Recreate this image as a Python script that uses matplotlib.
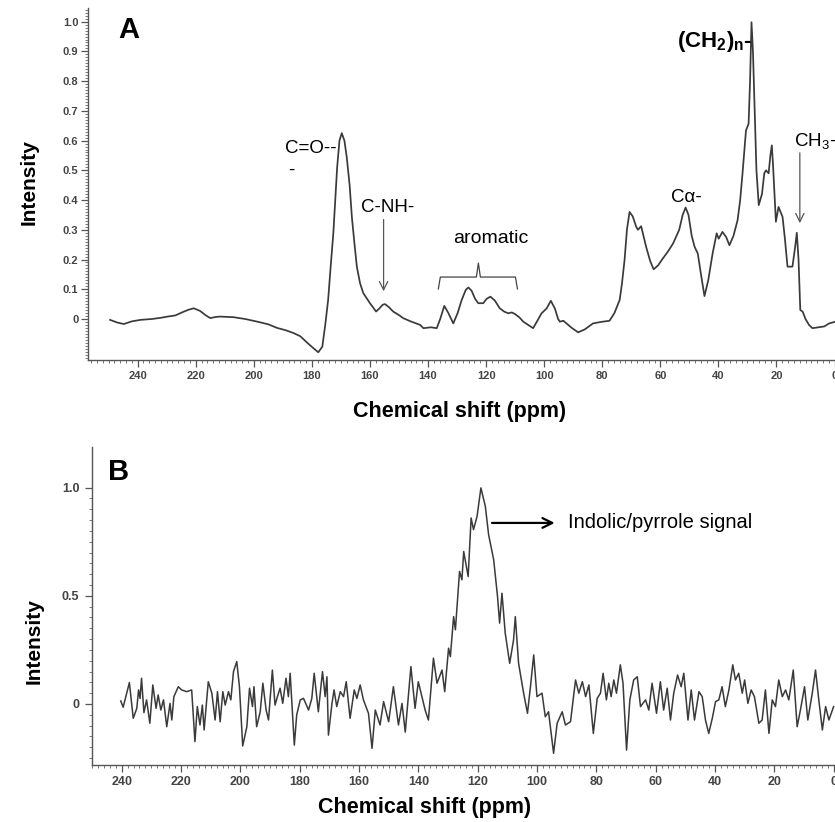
import matplotlib
matplotlib.use("Agg")
import matplotlib.pyplot as plt
import numpy as np

plt.rcParams['font.family'] = ['Liberation Sans', 'DejaVu Sans']
plt.rcParams['mathtext.fontset'] = 'custom'
plt.rcParams['mathtext.rm'] = 'Liberation Sans'
plt.rcParams['mathtext.bf'] = 'Liberation Sans:bold'
plt.rcParams['mathtext.it'] = 'Liberation Sans'

# panel A: 13C spectrum (ppm, intensity)
ppm_a = [249.5, 247, 244.8, 242, 239, 235, 232, 229.7, 227, 224.5, 222.5, 220.7,
         218.5, 216.5, 215, 213, 211.5, 207, 203, 198.8, 195, 192, 189, 186.4,
         184, 181.6, 179.5, 177.8, 176.4, 175.4, 174.4, 173.5, 172.6, 171.3,
         170.5, 169.7, 168.8, 168, 167, 166.2, 165.3, 164.5, 163.4, 162.3, 161,
         160, 159, 157.9, 156.8, 155.6, 154.8, 153.5, 152, 150, 148.6, 146,
         142.7, 141.6, 139, 137, 135.8, 134.4, 133, 131.3, 129.8, 128.4, 127,
         126.1, 125, 123.8, 122.7, 121, 119.8, 118.5, 117, 115.3, 113.8, 112.4,
         111.2, 110.1, 108.5, 107.2, 105.5, 103.8, 102.3, 100.9, 99.2, 97.7,
         96.3, 95.2, 94.6, 93.4, 92.3, 90.5, 88.3, 86, 83.2, 80.5, 77.5, 75.8,
         74, 73.2, 72.3, 71.5, 70.6, 69.5, 68.3, 67.7, 66.6, 65.8, 64.9, 63.5,
         62.3, 60.8, 59.1, 57.5, 55.6, 53.5, 52.3, 51.3, 50.3, 49.2, 48.2, 47.1,
         46, 44.8, 43.5, 42, 40.6, 39.9, 38.6, 37.3, 36.2, 34.8, 33.4, 32.5,
         31.7, 30.5, 29.6, 29.1, 28.6, 28.1, 27.6, 26.9, 26.1, 25, 24.2, 23.6,
         22.7, 22.1, 21.6, 21.2, 20.8, 20.2, 19.3, 18.6, 17.9, 17.1, 16.2, 14.5,
         13.6, 13.0, 12.4, 11.8, 11.0, 10, 8.8, 7.6, 5.5, 3.5, 1.9, 0]
int_a = [-0.003, -0.012, -0.017, -0.008, -0.003, 0.0, 0.004, 0.008, 0.012, 0.023,
         0.031, 0.036, 0.027, 0.012, 0.003, 0.007, 0.008, 0.006, 0.0, -0.009,
         -0.018, -0.03, -0.038, -0.047, -0.058, -0.08, -0.098, -0.112, -0.093,
         -0.02, 0.064, 0.18, 0.29, 0.51, 0.6, 0.625, 0.6, 0.545, 0.45, 0.34,
         0.25, 0.175, 0.12, 0.087, 0.068, 0.053, 0.04, 0.025, 0.035, 0.048,
         0.05, 0.04, 0.025, 0.013, 0.003, -0.008, -0.02, -0.031, -0.028, -0.031,
         0.0, 0.044, 0.02, -0.015, 0.02, 0.064, 0.098, 0.106, 0.095, 0.068,
         0.053, 0.053, 0.068, 0.075, 0.062, 0.036, 0.025, 0.019, 0.022, 0.017,
         0.005, -0.009, -0.02, -0.031, -0.005, 0.019, 0.035, 0.061, 0.035, 0.0,
         -0.009, -0.006, -0.015, -0.03, -0.045, -0.035, -0.015, -0.01, -0.006,
         0.02, 0.064, 0.12, 0.2, 0.3, 0.36, 0.345, 0.31, 0.30, 0.312, 0.28,
         0.243, 0.195, 0.167, 0.18, 0.204, 0.225, 0.254, 0.3, 0.35, 0.375, 0.35,
         0.28, 0.243, 0.22, 0.15, 0.077, 0.13, 0.22, 0.288, 0.27, 0.293, 0.275,
         0.248, 0.28, 0.332, 0.4, 0.489, 0.634, 0.657, 0.8, 0.998, 0.9, 0.735,
         0.5, 0.383, 0.42, 0.49, 0.5, 0.49, 0.55, 0.584, 0.52, 0.444, 0.327,
         0.377, 0.36, 0.343, 0.27, 0.176, 0.176, 0.24, 0.29, 0.2, 0.03, 0.025,
         0.0, -0.02, -0.031, -0.028, -0.025, -0.015, -0.01]

# panel B: noisy spectrum (ppm, intensity)
ppm_b = [240.3, 239.5, 237.4, 236.1, 234.9, 234.3, 233.8, 233.3, 232.5, 231.6,
         230.5, 229.5, 228.4, 227.7, 226.8, 225.9, 224.8, 223.7, 223.1, 222.4,
         220.9, 219.8, 218.1, 216.4, 215.3, 214.5, 213.6, 212.8, 212.2, 210.8,
         209.6, 208.5, 207.7, 206.8, 205.9, 205.1, 204, 203.2, 202.3, 201.2,
         200.3, 199.2, 197.8, 196.9, 195.9, 195.4, 194.5, 193.3, 192.4, 191.3,
         190.5, 189.2, 188.3, 187.5, 186.6, 185.7, 184.6, 183.8, 183.2, 181.8,
         181, 179.8, 178.7, 177, 175.9, 175.1, 173.7, 172.3, 171.4, 170.8,
         170.3, 169.1, 168.4, 167.5, 166.3, 165.2, 164.3, 163, 161.6, 160.7,
         159.6, 158.5, 156.8, 155.6, 154.5, 152.9, 151.7, 150, 148.4, 146.7,
         145.5, 144.4, 142.5, 141.1, 140, 137.7, 136.6, 134.9, 133.7, 132,
         131.1, 129.8, 129.2, 128.1, 127.5, 126.1, 125.3, 124.7, 123.2, 122.2,
         121.4, 120.2, 118.9, 117.4, 116.3, 114.6, 113.3, 112.6, 111.8, 110.7,
         109.2, 107.9, 107.3, 106.2, 104.5, 103.2, 102.2, 101.1, 100, 98.3,
         97.2, 96.1, 94.4, 93.2, 91.5, 90.4, 88.7, 87, 85.9, 84.7, 83.6, 82.5,
         81, 79.7, 78.6, 77.7, 76.6, 75.8, 75, 74.1, 73.2, 71.9, 71, 69.8,
         68.7, 67.4, 66.2, 65.1, 63.4, 62.3, 61.2, 59.7, 58.4, 57.3, 56.1, 55,
         53.9, 52.6, 51.4, 50.5, 49.1, 48, 46.9, 45.4, 44.3, 43.2, 42.1, 40.9,
         39.8, 38.7, 37.6, 36.5, 35.3, 34, 33.1, 32, 30.8, 30, 28.9, 27.8,
         26.7, 25.2, 24.1, 23, 21.8, 20.7, 19.6, 18.5, 17.3, 16.2, 15.1, 13.6,
         12.3, 11.2, 9.8, 8.7, 7.2, 6.1, 5, 3.8, 2.7, 1.6, 0]
int_b = [0.014, -0.015, 0.099, -0.066, -0.02, 0.065, 0.026, 0.119, -0.04, 0.019,
         -0.089, 0.088, -0.02, 0.042, -0.028, 0.019, -0.105, 0.003, -0.074, 0.034,
         0.08, 0.065, 0.057, 0.065, -0.174, -0.012, -0.097, -0.005, -0.12, 0.103,
         0.05, -0.074, 0.057, -0.082, 0.057, -0.005, 0.057, 0.019, 0.15, 0.196,
         0.08, -0.194, -0.105, 0.073, -0.012, 0.08, -0.105, -0.036, 0.096, -0.028,
         -0.074, 0.157, -0.005, 0.034, 0.073, 0.003, 0.119, 0.034, 0.142, -0.19,
         -0.051, 0.019, 0.026, -0.028, 0.026, 0.142, -0.036, 0.15, 0.034, 0.126,
         -0.144, 0.003, 0.065, -0.012, 0.057, 0.034, 0.103, -0.066, 0.065, 0.026,
         0.088, 0.019, -0.043, -0.205, -0.028, -0.097, 0.011, -0.082, 0.08, -0.097,
         0.003, -0.13, 0.173, -0.02, 0.103, -0.028, -0.074, 0.212, 0.096, 0.157,
         0.057, 0.258, 0.219, 0.404, 0.343, 0.613, 0.574, 0.705, 0.589, 0.86,
         0.806, 0.867, 0.999, 0.913, 0.782, 0.667, 0.497, 0.374, 0.512, 0.327,
         0.188, 0.296, 0.404, 0.188, 0.05, -0.043, 0.08, 0.227, 0.034, 0.05,
         -0.059, -0.036, -0.228, -0.089, -0.036, -0.097, -0.082, 0.111, 0.05, 0.103,
         0.034, 0.088, -0.136, 0.026, 0.05, 0.142, 0.019, 0.096, 0.034, 0.111,
         0.05, 0.181, 0.096, -0.213, 0.019, 0.111, 0.126, -0.012, 0.019, -0.028,
         0.096, -0.043, 0.103, -0.028, 0.073, -0.074, 0.05, 0.134, 0.08, 0.142,
         -0.074, 0.065, -0.074, 0.057, 0.034, -0.074, -0.136, -0.066, 0.011, 0.019,
         0.08, -0.012, 0.065, 0.181, 0.111, 0.142, 0.05, 0.111, 0.003, 0.065,
         0.034, -0.089, -0.074, 0.065, -0.136, 0.019, -0.012, 0.111, 0.034, 0.065,
         0.019, 0.157, -0.105, -0.028, 0.08, -0.074, 0.05, 0.157, 0.019, -0.12,
         -0.012, -0.074, -0.012]

a_yticks = [0, 0.1, 0.2, 0.3, 0.4, 0.5, 0.6, 0.7, 0.8, 0.9, 1.0]
a_ylabels = ["0", "0.1", "0.2", "0.3", "0.4", "0.5", "0.6", "0.7", "0.8", "0.9", "1.0"]
b_yticks = [0, 0.5, 1.0]
b_ylabels = ["0", "0.5", "1.0"]
xticks = [240, 220, 200, 180, 160, 140, 120, 100, 80, 60, 40, 20, 0]

W, H = 835, 822
line_c = "#3a3a3a"
tick_c = "#444444"

fig = plt.figure(figsize=(W / 100, H / 100), dpi=100)


def px_axes(left, top, right, bottom):
    return fig.add_axes([left / W, 1 - bottom / H, (right - left) / W, (bottom - top) / H])


def style(ax, lsize):
    for s in ("top", "right"):
        ax.spines[s].set_visible(False)
    for s in ("left", "bottom"):
        ax.spines[s].set_color("#555555")
        ax.spines[s].set_linewidth(1.0)
    ax.tick_params(which="major", direction="out", length=5, width=0.9, color="#555555",
                   labelsize=lsize, labelcolor=tick_c)
    ax.tick_params(which="minor", direction="out", length=2.5, width=0.7, color="#777777")
    for t in ax.get_xticklabels() + ax.get_yticklabels():
        t.set_fontweight("bold")


# ---- panel A ----
ax1 = px_axes(88, 8, 836, 360)
ax1.plot(ppm_a, int_a, color=line_c, lw=1.25)
ax1.set_xlim(257.1, -0.5)
ax1.set_ylim(-0.138, 1.046)
ax1.set_xticks(xticks)
ax1.set_xticklabels([str(v) for v in xticks])
ax1.set_xticks(np.arange(256, -1, -2), minor=True)
ax1.set_yticks(a_yticks)
ax1.set_yticklabels(a_ylabels)
ax1.set_yticks(np.arange(-0.13, 1.045, 0.01), minor=True)
style(ax1, 8)
ax1.tick_params(axis="x", pad=3)
ax1.tick_params(axis="y", pad=2)

ax1.text(246.7, 0.972, "A", fontsize=21, fontweight="bold", ha="left", va="center")
ax1.text(189.2, 0.558, "C=O--", fontsize=13.5, ha="left", va="baseline")
ax1.text(188.1, 0.486, "-", fontsize=13.5, ha="left", va="baseline")
ax1.text(163.0, 0.36, "C-NH-", fontsize=13.5, ha="left", va="baseline")
ax1.annotate("", xy=(155.3, 0.084), xytext=(155.3, 0.344),
             arrowprops=dict(arrowstyle="->,head_length=0.6,head_width=0.3", color="#555555", lw=0.9))
ax1.text(118.3, 0.254, "aromatic", fontsize=14, ha="center", va="baseline")
bx = [136.45, 135.76, 123.35, 122.66, 121.97, 109.9, 109.2]
by = [0.101, 0.141, 0.141, 0.188, 0.141, 0.141, 0.101]
ax1.plot(bx, by, color="#444444", lw=0.9)
ax1.text(56.3, 0.395, "C\u03b1-", fontsize=13.5, ha="left", va="baseline")
ax1.text(54.2, 0.915, r"$\mathbf{(CH_2)_n}$-", fontsize=16, fontweight="bold",
         ha="left", va="baseline")
ax1.text(14.0, 0.582, r"CH$_3$-", fontsize=13.5, ha="left", va="baseline")
ax1.annotate("", xy=(11.95, 0.313), xytext=(11.95, 0.568),
             arrowprops=dict(arrowstyle="->,head_length=0.6,head_width=0.3", color="#555555", lw=0.9))

# ---- panel B ----
ax2 = px_axes(92, 447, 836, 765)
ax2.plot(ppm_b, int_b, color=line_c, lw=1.1)
ax2.set_xlim(250.0, -0.8)
ax2.set_ylim(-0.282, 1.188)
ax2.set_xticks(xticks)
ax2.set_xticklabels([str(v) for v in xticks])
ax2.set_xticks(np.arange(250, -1, -2), minor=True)
ax2.set_yticks(b_yticks)
ax2.set_yticklabels(b_ylabels)
ax2.set_yticks(np.arange(-0.25, 1.001, 0.05), minor=True)
style(ax2, 9)
ax2.tick_params(axis="x", pad=3)
ax2.tick_params(axis="y", pad=4)

ax2.text(244.6, 1.036, "B", fontsize=21, fontweight="bold", ha="left", va="baseline")
ax2.annotate("", xy=(93.1, 0.837), xytext=(116.1, 0.837),
             arrowprops=dict(arrowstyle="->,head_length=0.7,head_width=0.35", color="black", lw=1.6))
ax2.text(89.4, 0.837, "Indolic/pyrrole signal", fontsize=14.5, ha="left", va="center")

# axis titles
fig.text(29 / W, 1 - 182 / H, "Intensity", rotation=90, fontsize=15, fontweight="bold",
         ha="center", va="center")
fig.text(460 / W, 1 - 411 / H, "Chemical shift (ppm)", fontsize=15.5, fontweight="bold",
         ha="center", va="center")
fig.text(34 / W, 1 - 641 / H, "Intensity", rotation=90, fontsize=15, fontweight="bold",
         ha="center", va="center")
fig.text(425 / W, 1 - 807 / H, "Chemical shift (ppm)", fontsize=15.5, fontweight="bold",
         ha="center", va="center")

fig.savefig("out.png", dpi=100)
